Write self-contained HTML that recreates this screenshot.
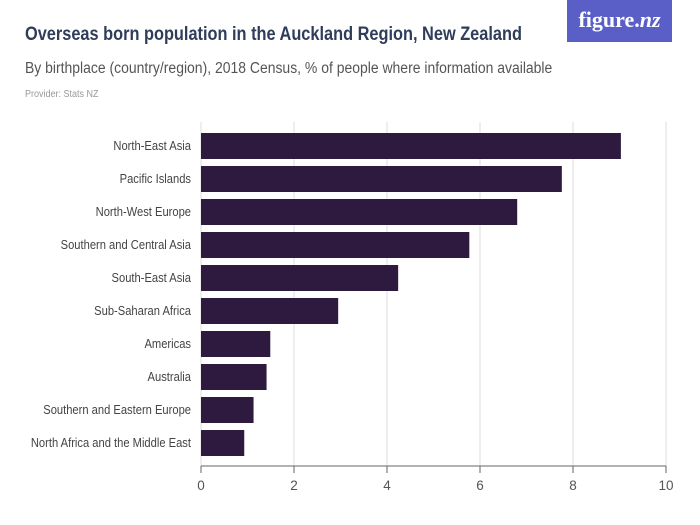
<!DOCTYPE html>
<html><head><meta charset="utf-8"><style>
body{margin:0;width:700px;height:525px;background:#fff;font-family:"Liberation Sans",sans-serif;overflow:hidden;position:relative}
.t{position:absolute;white-space:nowrap}
</style></head><body>
<div class="t" style="left:25px;top:24px;font-size:19px;font-weight:bold;color:#2f3c5a;transform:scaleX(0.86);transform-origin:left">Overseas born population in the Auckland Region, New Zealand</div>
<div class="t" style="left:25px;top:60px;font-size:15.5px;color:#555;transform:scaleX(0.9);transform-origin:left">By birthplace (country/region), 2018 Census, % of people where information available</div>
<div class="t" style="left:25px;top:89px;font-size:10px;color:#999;transform:scaleX(0.9);transform-origin:left">Provider: Stats NZ</div>
<div style="position:absolute;left:567px;top:0;width:105px;height:42px;background:#5a5fc8;color:#fff;font-family:'Liberation Serif',serif;font-size:22px;font-weight:bold;text-align:center;line-height:40px">figure.<i>nz</i></div>
<svg id="c" width="700" height="525" style="position:absolute;left:0;top:0"></svg>
<script>
const categories=["North-East Asia","Pacific Islands","North-West Europe","Southern and Central Asia","South-East Asia","Sub-Saharan Africa","Americas","Australia","Southern and Eastern Europe","North Africa and the Middle East"];
const values=[9.03,7.76,6.8,5.77,4.24,2.95,1.49,1.41,1.13,0.93];
const ticks=[0,2,4,6,8,10];
const svg=document.getElementById('c'),NS='http://www.w3.org/2000/svg';
const x=v=>201+v*46.5, y=i=>133+i*33;
function mk(t,a){const e=document.createElementNS(NS,t);for(const k in a)e.setAttribute(k,a[k]);svg.appendChild(e);return e;}
ticks.forEach(t=>{
 const g=mk('line',{x1:x(t),x2:x(t),y1:122,y2:466,stroke:'#ddd','stroke-width':1});
 
 
 const tk=mk('line',{x1:x(t),x2:x(t),y1:466,y2:473,stroke:'#666','stroke-width':1});
 
 
 const l=mk('text',{x:x(t),y:490,'text-anchor':'middle','font-size':13.5,fill:'#555','font-family':'Liberation Sans'});
 l.textContent=t;
 
 
});
values.forEach((v,i)=>{
 const r=mk('rect',{x:x(0),y:y(i),width:x(v)-x(0),height:26,fill:'#2e1a3f'});
 
 
 const l=mk('text',{transform:'translate(191,'+(y(i)+17)+') scale(0.86,1)','text-anchor':'end','font-size':13,fill:'#444','font-family':'Liberation Sans'});
 l.textContent=categories[i];
 
 
});
const ax=mk('line',{x1:201,x2:666,y1:466,y2:466,stroke:'#666'});


</script>
</body></html>
